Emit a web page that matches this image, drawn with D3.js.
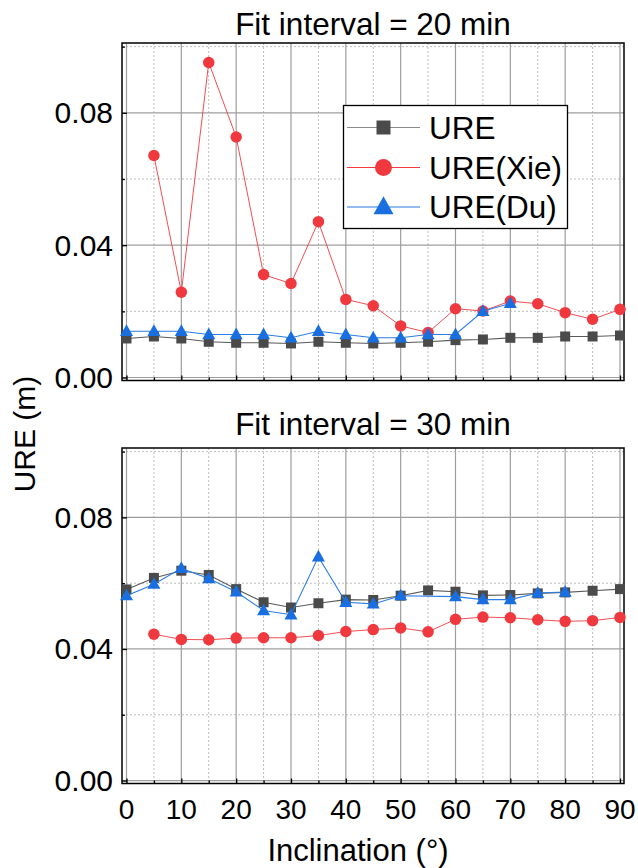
<!DOCTYPE html>
<html>
<head>
<meta charset="utf-8">
<script src="https://cdn.jsdelivr.net/npm/d3@7"></script>
<style>
  html, body { margin: 0; padding: 0; background: #fff; }
  text { font-family: "Liberation Sans", Arial, Helvetica, sans-serif; fill: #000; }
</style>
</head>
<body>
<svg id="chart" width="638" height="868"></svg>
<script>
// ---------------- data ----------------
const inclinations = [0, 5, 10, 15, 20, 25, 30, 35, 40, 45, 50, 55, 60, 65, 70, 75, 80, 85, 90];
const seriesNames = ["URE", "URE(Xie)", "URE(Du)"];
const panelTitles = ["Fit interval = 20 min", "Fit interval = 30 min"];

// Fit interval = 20 min
const ure20 = [0.0118, 0.0124, 0.0118, 0.0108, 0.0105, 0.0105, 0.0103, 0.0108, 0.0105, 0.0103, 0.0105, 0.0108, 0.0113, 0.0115, 0.0120, 0.0120, 0.0124, 0.0124, 0.0127];
const xie20 = [null, 0.0671, 0.0258, 0.0952, 0.0727, 0.0311, 0.0284, 0.0471, 0.0236, 0.0217, 0.0156, 0.0136, 0.0208, 0.0201, 0.0231, 0.0223, 0.0196, 0.0176, 0.0206];
const du20  = [0.0140, 0.0140, 0.0140, 0.0130, 0.0130, 0.0130, 0.0120, 0.0140, 0.0130, 0.0120, 0.0120, 0.0130, 0.0130, 0.0200, 0.0224, null, null, null, null];

// Fit interval = 30 min
const ure30 = [0.0581, 0.0616, 0.0638, 0.0625, 0.0582, 0.0542, 0.0526, 0.0539, 0.0550, 0.0549, 0.0562, 0.0578, 0.0574, 0.0563, 0.0564, 0.0569, 0.0572, 0.0577, 0.0582];
const xie30 = [null, 0.0445, 0.0429, 0.0428, 0.0433, 0.0434, 0.0434, 0.0441, 0.0453, 0.0459, 0.0464, 0.0452, 0.0490, 0.0497, 0.0495, 0.0489, 0.0484, 0.0486, 0.0496];
const du30  = [0.0562, 0.0597, 0.0645, 0.0614, 0.0574, 0.0517, 0.0504, 0.0680, 0.0542, 0.0537, 0.0562, null, 0.0559, 0.0550, 0.0550, 0.0570, 0.0573, null, null];

const yMajorTicks = [0, 0.04, 0.08];
const yMinorTicks = [0.02, 0.06, 0.10];
const xMajorTicks = [0, 10, 20, 30, 40, 50, 60, 70, 80, 90];
const xMinorTicks = [5, 15, 25, 35, 45, 55, 65, 75, 85];
const xAxisTitle = "Inclination (°)";
const yAxisTitle = "URE (m)";

// ---------------- layout / style ----------------
const svg = d3.select("#chart");
const left = 122, right = 624;
const panels = [
  { top: 43, bottom: 380.5, title: panelTitles[0], titleY: 35, data: [ure20, xie20, du20], legend: true, xLabels: false },
  { top: 448, bottom: 783.5, title: panelTitles[1], titleY: 435, data: [ure30, xie30, du30], legend: false, xLabels: true }
];
const styles = [
  { line: "#5a5a5a", lineW: 1.1, marker: "#4a4a4a", shape: "square", legendLine: "#8c8c8c" },
  { line: "#ee3a40", lineW: 0.9, marker: "#f0393e", shape: "circle", legendLine: "#ee3a40" },
  { line: "#2a7ee6", lineW: 1.1, marker: "#1a6fe0", shape: "triangle", legendLine: "#6ea6ea" }
];

const x = d3.scaleLinear().domain([-0.82, 90.73]).range([left, right]);

function markerPath(shape, size) {
  if (shape === "square") {
    const h = size / 2;
    return `M${-h},${-h}H${h}V${h}H${-h}Z`;
  }
  if (shape === "circle") {
    const r = size / 2;
    return `M${r},0A${r},${r} 0 1,1 ${-r},0A${r},${r} 0 1,1 ${r},0Z`;
  }
  const w = size / 2, h = size * 0.9;
  return `M0,${-h * 0.6}L${w},${h * 0.4}L${-w},${h * 0.4}Z`;
}
const plotSizes = { square: 10, circle: 11.5, triangle: 13 };

panels.forEach((p, pi) => {
  const y = d3.scaleLinear().domain([-0.0009, 0.1011]).range([p.bottom, p.top]);
  const g = svg.append("g");

  // minor grid (dotted)
  g.selectAll(".gxm").data(xMinorTicks).join("line")
    .attr("x1", d => x(d)).attr("x2", d => x(d))
    .attr("y1", p.top).attr("y2", p.bottom)
    .attr("stroke", "#bdbdbd").attr("stroke-width", 1).attr("stroke-dasharray", "2,2");
  g.selectAll(".gym").data(yMinorTicks).join("line")
    .attr("x1", left).attr("x2", right)
    .attr("y1", d => y(d)).attr("y2", d => y(d))
    .attr("stroke", "#bdbdbd").attr("stroke-width", 1).attr("stroke-dasharray", "2,2");
  // major grid (solid)
  g.selectAll(".gx").data(xMajorTicks).join("line")
    .attr("x1", d => x(d)).attr("x2", d => x(d))
    .attr("y1", p.top).attr("y2", p.bottom)
    .attr("stroke", "#9e9e9e").attr("stroke-width", 1.2);
  g.selectAll(".gy").data(yMajorTicks).join("line")
    .attr("x1", left).attr("x2", right)
    .attr("y1", d => y(d)).attr("y2", d => y(d))
    .attr("stroke", "#9e9e9e").attr("stroke-width", 1.2);

  // axes with inward ticks
  const xAxisMajor = d3.axisBottom(x).tickValues(xMajorTicks).tickSize(-5).tickFormat("");
  const xAxisMinor = d3.axisBottom(x).tickValues(xMinorTicks).tickSize(-3).tickFormat("");
  const yAxisMajor = d3.axisLeft(y).tickValues(yMajorTicks).tickSize(-5).tickFormat("");
  const yAxisMinor = d3.axisLeft(y).tickValues(yMinorTicks).tickSize(-3).tickFormat("");
  [xAxisMajor, xAxisMinor].forEach(ax => {
    const a = g.append("g").attr("transform", `translate(0,${p.bottom})`).call(ax);
    a.select(".domain").remove();
    a.selectAll("line").attr("stroke", "#000").attr("stroke-width", 1.3);
  });
  [yAxisMajor, yAxisMinor].forEach(ax => {
    const a = g.append("g").attr("transform", `translate(${left},0)`).call(ax);
    a.select(".domain").remove();
    a.selectAll("line").attr("stroke", "#000").attr("stroke-width", 1.3);
  });

  // y tick labels
  g.selectAll(".yl").data(yMajorTicks).join("text")
    .attr("x", 113).attr("y", d => y(d))
    .attr("dy", "0.35em")
    .attr("text-anchor", "end")
    .attr("font-size", 30)
    .text(d => d3.format(".2f")(d));

  // x tick labels
  if (p.xLabels) {
    g.selectAll(".xl").data(xMajorTicks).join("text")
      .attr("x", d => x(d)).attr("y", 819)
      .attr("text-anchor", "middle")
      .attr("font-size", 28)
      .text(d => d);
  }

  // frame
  g.append("rect")
    .attr("x", left).attr("y", p.top)
    .attr("width", right - left).attr("height", p.bottom - p.top)
    .attr("fill", "none").attr("stroke", "#000").attr("stroke-width", 1.5);

  // title
  g.append("text")
    .attr("x", (left + right) / 2).attr("y", p.titleY)
    .attr("text-anchor", "middle").attr("font-size", 31.5)
    .text(p.title);

  // series
  p.data.forEach((vals, si) => {
    const st = styles[si];
    const pts = inclinations.map((inc, i) => ({ inc, v: vals[i] })).filter(d => d.v !== null);
    const line = d3.line().x(d => x(d.inc)).y(d => y(d.v));
    g.append("path").datum(pts)
      .attr("d", line)
      .attr("fill", "none")
      .attr("stroke", st.line)
      .attr("stroke-width", st.lineW);
    g.selectAll(".m" + si).data(pts).join("path")
      .attr("transform", d => `translate(${x(d.inc)},${y(d.v)})`)
      .attr("d", markerPath(st.shape, plotSizes[st.shape]))
      .attr("fill", st.marker);
  });

  // legend
  if (p.legend) {
    const lg = g.append("g");
    lg.append("rect")
      .attr("x", 343.5).attr("y", 105.5).attr("width", 224).attr("height", 123)
      .attr("fill", "#fff").attr("stroke", "#000").attr("stroke-width", 1.3);
    const rowsY = [127.5, 167.5, 207];
    const legendSizes = { square: 14, circle: 17, triangle: 20 };
    seriesNames.forEach((name, si) => {
      const st = styles[si];
      lg.append("line")
        .attr("x1", 347).attr("x2", 420)
        .attr("y1", rowsY[si]).attr("y2", rowsY[si])
        .attr("stroke", st.legendLine).attr("stroke-width", si === 2 ? 1.6 : 1.2);
      lg.append("path")
        .attr("transform", `translate(383.5,${rowsY[si]})`)
        .attr("d", markerPath(st.shape, legendSizes[st.shape]))
        .attr("fill", st.marker);
      lg.append("text")
        .attr("x", 429).attr("y", rowsY[si])
        .attr("dy", "0.36em")
        .attr("font-size", 31.5)
        .text(name);
    });
  }
});

// axis titles
svg.append("text")
  .attr("x", 358).attr("y", 861)
  .attr("text-anchor", "middle").attr("font-size", 31)
  .text(xAxisTitle);
svg.append("text")
  .attr("transform", "translate(35,434) rotate(-90)")
  .attr("text-anchor", "middle").attr("font-size", 30)
  .text(yAxisTitle);
</script>
</body>
</html>
